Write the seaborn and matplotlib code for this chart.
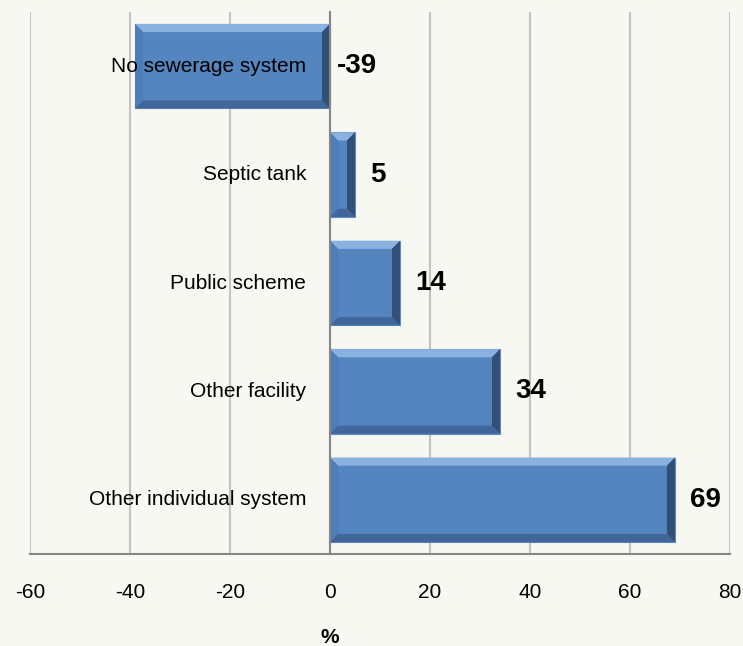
import pandas as pd
import matplotlib.pyplot as plt
import seaborn as sns
from matplotlib.patches import Polygon

# data
categories = ["No sewerage system", "Septic tank", "Public scheme",
              "Other facility", "Other individual system"]
values = [-39, 5, 14, 34, 69]
x_ticks = [-60, -40, -20, 0, 20, 40, 60, 80]

BG = "#F8F8F3"
FACE = "#5585BF"


def add_bevel(ax, patch):
    # fake the Excel bevel look with light/dark trapezoids on each bar edge
    x0, y0 = patch.get_x(), patch.get_y()
    w, h = patch.get_width(), patch.get_height()
    x1, y1 = x0 + w, y0 + h
    left, right = min(x0, x1), max(x0, x1)
    top, bottom = min(y0, y1), max(y0, y1)   # y axis inverted: top = smaller value
    bx = min(1.6, (right - left) / 3)
    by = 0.075
    sides = [
        ([(left, top), (right, top), (right - bx, top + by), (left + bx, top + by)], "#8AB1E0"),
        ([(left, bottom), (right, bottom), (right - bx, bottom - by), (left + bx, bottom - by)], "#41669A"),
        ([(right, top), (right, bottom), (right - bx, bottom - by), (right - bx, top + by)], "#324F78"),
        ([(left, top), (left, bottom), (left + bx, bottom - by), (left + bx, top + by)], "#4E7CB6"),
    ]
    for pts, col in sides:
        ax.add_patch(Polygon(pts, closed=True, facecolor=col, edgecolor="none", zorder=3))


def plot_chart():
    df = pd.DataFrame({"category": categories, "value": values})

    sns.set_style("white")
    plt.rcParams["font.family"] = ["Liberation Sans", "DejaVu Sans"]
    plt.rcParams["text.color"] = "black"
    plt.rcParams["xtick.color"] = "black"

    fig = plt.figure(figsize=(7.43, 6.46), dpi=100, facecolor=BG)
    ax = fig.add_axes([0.0404, 0.1424, 0.942, 0.839])
    ax.set_facecolor(BG)

    sns.barplot(data=df, x="value", y="category", orient="h", color=FACE,
                saturation=1, width=0.78, ax=ax, zorder=2,
                edgecolor="#5F8BC2", linewidth=0.8)

    for patch in list(ax.patches):
        add_bevel(ax, patch)

    ax.set_xlim(-60, 80)
    ax.set_xticks(x_ticks)
    ax.set_xticklabels([str(t) for t in x_ticks], fontsize=15)
    ax.tick_params(axis="x", direction="out", length=5, width=1.5,
                   color="#868686", labelcolor="black", pad=16)
    ax.grid(axis="x", color="#C4C4C4", linewidth=1.5, zorder=0)
    ax.set_axisbelow(True)

    # y axis at zero with tick marks between categories
    ax.spines["left"].set_position(("data", 0))
    for side in ["top", "right"]:
        ax.spines[side].set_visible(False)
    for side in ["left", "bottom"]:
        ax.spines[side].set_color("#868686")
        ax.spines[side].set_linewidth(1.5)
    ax.spines["left"].set_zorder(4)
    ax.set_yticks([i - 0.5 for i in range(len(categories) + 1)])
    ax.set_yticklabels([])
    ax.tick_params(axis="y", direction="out", length=5, width=1.5, color="#868686")
    ax.set_ylabel("")
    ax.set_ylim(len(categories) - 0.5, -0.5)

    # category labels sit left of the zero line, over the bars
    for i, cat in enumerate(categories):
        ax.annotate(cat, xy=(0, i), xytext=(-17, 0), textcoords="offset points",
                    ha="right", va="center", fontsize=15, color="black", zorder=6)

    # value labels
    for i, v in enumerate(values):
        off = 5 if v < 0 else 11
        ax.annotate(str(v), xy=(max(v, 0), i), xytext=(off, 0),
                    textcoords="offset points", ha="left", va="center",
                    fontsize=20, fontweight="bold", color="black", zorder=6)

    ax.set_xlabel("%", fontsize=15, fontweight="bold", color="black")
    # centre the axis title under the zero line
    ax.xaxis.set_label_coords(60 / 140, -0.137)

    plt.savefig("out.png", dpi=100, facecolor=BG)
    plt.close()


if __name__ == "__main__":
    plot_chart()
